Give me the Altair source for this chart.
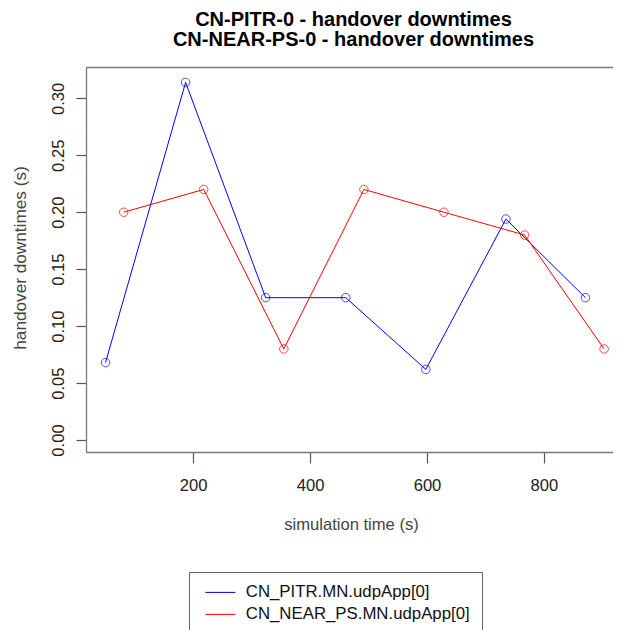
import altair as alt
import pandas as pd

# ---- data ----
pitr_time = [50, 187, 324, 461, 598, 735, 871]
pitr_downtime = [0.068, 0.314, 0.125, 0.125, 0.062, 0.194, 0.125]
near_time = [81, 218, 355, 492, 629, 767, 903]
near_downtime = [0.20, 0.22, 0.08, 0.22, 0.20, 0.18, 0.08]
series_names = ["CN_PITR.MN.udpApp[0]", "CN_NEAR_PS.MN.udpApp[0]"]
series_colors = ["#0000ff", "#ff0000"]
x_ticks = [200, 400, 600, 800]
y_ticks = [0.0, 0.05, 0.10, 0.15, 0.20, 0.25, 0.30]
title_lines = ["CN-PITR-0 - handover downtimes", "CN-NEAR-PS-0 - handover downtimes"]
x_title = "simulation time (s)"
y_title = "handover downtimes (s)"

rows = []
for t, v in zip(pitr_time, pitr_downtime):
    rows.append({"time": t, "downtime": v, "series": series_names[0]})
for t, v in zip(near_time, near_downtime):
    rows.append({"time": t, "downtime": v, "series": series_names[1]})
df = pd.DataFrame(rows)

FONT = "Liberation Sans"
W, H = 527, 385
x_scale = alt.Scale(domain=[16.6, 918.2], nice=False, zero=False)
y_scale = alt.Scale(domain=[-0.0105, 0.3275], nice=False, zero=False)
color_scale = alt.Scale(domain=series_names, range=series_colors)

x_axis = alt.Axis(
    values=x_ticks, title=x_title, orient="bottom", grid=False,
    tickSize=11, labelPadding=14, labelFontSize=16.6, titleFontSize=16.6,
    labelFont=FONT, titleFont=FONT, labelColor="#222", titleColor="#444",
    titleFontWeight="normal", titleBaseline="alphabetic", titleY=77,
    titleX=W / 2 + 1.5,
    domainColor="#777", domainWidth=1.3, tickColor="#555", tickWidth=1.2,
    labelFlush=False,
)
y_axis = alt.Axis(
    values=y_ticks, format=".2f", title=y_title, grid=False,
    tickSize=10, labelPadding=13, labelAngle=-90, labelAlign="center",
    labelBaseline="alphabetic", labelFontSize=16.6, titleFontSize=17.2,
    labelFont=FONT, titleFont=FONT, labelColor="#222", titleColor="#444",
    titleFontWeight="normal", titleAngle=-90, titleAlign="center",
    titleBaseline="alphabetic", titleX=-61, titleY=H / 2 - 2,
    domainColor="#777", domainWidth=1.3, tickColor="#555", tickWidth=1.2,
)
top_axis = alt.Axis(
    orient="top", labels=False, ticks=False, title=None, grid=False,
    domainColor="#777", domainWidth=1.3,
)

legend = alt.Legend(
    orient="none", legendX=103, legendY=505, title=None,
    symbolType="M-2.5,0H2.5", symbolSize=144, symbolStrokeWidth=1,
    labelFontSize=16.8, labelFont=FONT, labelColor="#111",
    strokeColor="#666", fillColor="white", padding=12, symbolOffset=11,
    labelOffset=17, rowPadding=4, labelLimit=400,
)

base = alt.Chart(df)

lines = base.mark_line(strokeWidth=1).encode(
    x=alt.X("time:Q", scale=x_scale, axis=x_axis),
    y=alt.Y("downtime:Q", scale=y_scale, axis=y_axis),
    color=alt.Color("series:N", scale=color_scale, legend=legend),
    order=alt.Order("time:Q"),
)

points = base.mark_point(shape="circle", filled=False, size=72, strokeWidth=1).encode(
    x=alt.X("time:Q", scale=x_scale, axis=top_axis),
    y=alt.Y("downtime:Q", scale=y_scale),
    color=alt.Color("series:N", scale=color_scale, legend=None),
)

chart = (
    alt.layer(lines, points)
    .resolve_axis(x="independent")
    .resolve_legend(color="independent")
    .properties(
        width=W, height=H,
        autosize=alt.AutoSizeParams(type="none"),
        padding={"left": 78, "top": 59, "right": 0, "bottom": 178},
        title=alt.TitleParams(
            text=title_lines, fontSize=20, font=FONT, fontWeight="bold",
            color="#000", anchor="middle", lineHeight=20, offset=17, dx=4,
        ),
    )
    .configure_view(stroke=None)
    .configure(background="white")
)

chart.save("out.html", embed_options={"renderer": "svg", "actions": False})
